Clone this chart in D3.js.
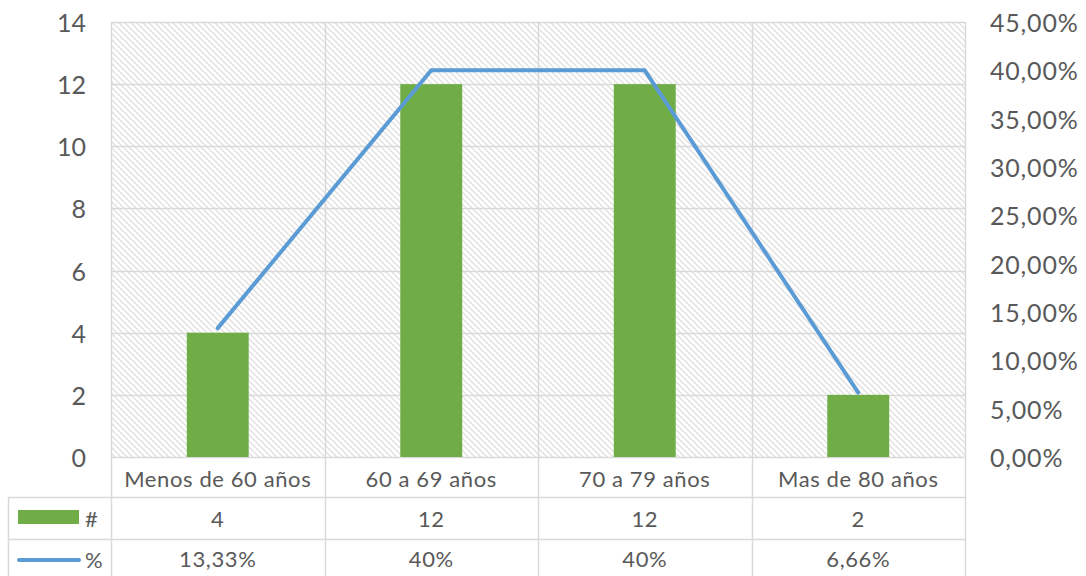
<!DOCTYPE html>
<html>
<head>
<meta charset="utf-8">
<script src="https://cdn.jsdelivr.net/npm/d3@7"></script>
<style>
  html, body { margin: 0; padding: 0; background: #fff; }
  svg { display: block; }
  text { font-family: Lato, "Open Sans", sans-serif; fill: #595959; }
</style>
</head>
<body>
<svg id="chart" width="1086" height="576"></svg>
<script>
// Age groups with patient count (#) and share (%)
const categories = ["Menos de 60 años", "60 a 69 años", "70 a 79 años", "Mas de 80 años"];
const counts = [4, 12, 12, 2];
const shares = [0.1333, 0.40, 0.40, 0.0666];
const countLabels = ["4", "12", "12", "2"];
const shareLabels = ["13,33%", "40%", "40%", "6,66%"];
const leftTicks = [0, 2, 4, 6, 8, 10, 12, 14];
const rightTicks = [0, 0.05, 0.10, 0.15, 0.20, 0.25, 0.30, 0.35, 0.40, 0.45];

const svg = d3.select("#chart");
const plot = { left: 111, right: 965, top: 22, bottom: 457 };
const table = { left: 8, rowCat: 497, rowCount: 539, bottom: 576 };
const gridColor = "#d9d9d9";

const x = d3.scaleBand().domain(categories).range([plot.left, plot.right]).paddingInner(0).paddingOuter(0);
const yL = d3.scaleLinear().domain([0, 14]).range([plot.bottom, plot.top]);
const yR = d3.scaleLinear().domain([0, 0.45]).range([plot.bottom, plot.top]);
const barW = x.bandwidth() * 0.29;

// Diagonal hatch fill for the plot area
const defs = svg.append("defs");
const pat = defs.append("pattern")
  .attr("id", "hatch").attr("patternUnits", "userSpaceOnUse")
  .attr("width", 6).attr("height", 6);
pat.append("rect").attr("width", 6).attr("height", 6).attr("fill", "#fff");
pat.append("path")
  .attr("d", "M0,0 L6,6 M-3,3 L3,9 M3,-3 L9,3")
  .attr("stroke", "#e0e0e0").attr("stroke-width", 1.3);

svg.append("rect")
  .attr("x", plot.left).attr("y", plot.top)
  .attr("width", plot.right - plot.left).attr("height", plot.bottom - plot.top)
  .attr("fill", "url(#hatch)");

// Horizontal gridlines
svg.append("g").selectAll("line").data(leftTicks).join("line")
  .attr("x1", plot.left).attr("x2", plot.right)
  .attr("y1", d => Math.round(yL(d)) + 0.5).attr("y2", d => Math.round(yL(d)) + 0.5)
  .attr("stroke", gridColor).attr("stroke-width", 1.5);

// Vertical lines at category boundaries, through plot and data table
const bounds = categories.map(c => x(c)).concat([plot.right]);
svg.append("g").selectAll("line").data(bounds).join("line")
  .attr("x1", d => Math.round(d) + 0.5).attr("x2", d => Math.round(d) + 0.5)
  .attr("y1", plot.top).attr("y2", table.bottom)
  .attr("stroke", gridColor).attr("stroke-width", 1.5);

// Data table row separators and legend column border
[table.rowCat, table.rowCount].forEach(yy => {
  svg.append("line")
    .attr("x1", table.left).attr("x2", plot.right)
    .attr("y1", yy + 0.5).attr("y2", yy + 0.5)
    .attr("stroke", gridColor).attr("stroke-width", 1.5);
});
svg.append("line")
  .attr("x1", table.left + 0.5).attr("x2", table.left + 0.5)
  .attr("y1", table.rowCat).attr("y2", table.bottom)
  .attr("stroke", gridColor).attr("stroke-width", 1.5);

// Bars (#)
svg.append("g").selectAll("rect").data(counts).join("rect")
  .attr("x", (d, i) => x(categories[i]) + x.bandwidth() / 2 - barW / 2)
  .attr("y", d => yL(d))
  .attr("width", barW)
  .attr("height", d => yL(0) - yL(d))
  .attr("fill", "#70ad47");

// Line (%)
const line = d3.line()
  .x((d, i) => x(categories[i]) + x.bandwidth() / 2)
  .y(d => yR(d));
svg.append("path").datum(shares)
  .attr("d", line)
  .attr("fill", "none")
  .attr("stroke", "#5b9bd5").attr("stroke-width", 4)
  .attr("stroke-linejoin", "round").attr("stroke-linecap", "round");

// Left axis labels
svg.append("g").selectAll("text").data(leftTicks).join("text")
  .attr("x", 86).attr("y", d => yL(d))
  .attr("text-anchor", "end").attr("dominant-baseline", "central")
  .attr("font-size", 25)
  .text(d => d);

// Right axis labels
const fmtPct = v => (v * 100).toFixed(2).replace(".", ",") + "%";
svg.append("g").selectAll("text").data(rightTicks).join("text")
  .attr("x", 990).attr("y", d => yR(d))
  .attr("text-anchor", "start").attr("dominant-baseline", "central")
  .attr("font-size", 25).attr("letter-spacing", 0.8)
  .text(fmtPct);

// Data table contents
const cx = c => x(c) + x.bandwidth() / 2;
const tableFont = 22;
const tableText = sel => sel
  .attr("text-anchor", "middle").attr("dominant-baseline", "central")
  .attr("font-size", tableFont).attr("letter-spacing", 0.6);
svg.append("g").selectAll("text").data(categories).join("text")
  .attr("x", cx).attr("y", (plot.bottom + table.rowCat) / 2 + 1)
  .call(tableText).text(d => d);
svg.append("g").selectAll("text").data(countLabels).join("text")
  .attr("x", (d, i) => cx(categories[i])).attr("y", (table.rowCat + table.rowCount) / 2)
  .call(tableText).text(d => d);
svg.append("g").selectAll("text").data(shareLabels).join("text")
  .attr("x", (d, i) => cx(categories[i])).attr("y", (table.rowCount + table.bottom) / 2 + 1)
  .call(tableText).text(d => d);

// Legend keys in the table's first column
svg.append("rect").attr("x", 18).attr("y", 510).attr("width", 61).attr("height", 14).attr("fill", "#70ad47");
svg.append("text").attr("x", 85).attr("y", 518).attr("dominant-baseline", "central")
  .attr("font-size", tableFont).text("#");
svg.append("line").attr("x1", 19).attr("x2", 79).attr("y1", 560).attr("y2", 560)
  .attr("stroke", "#5b9bd5").attr("stroke-width", 4).attr("stroke-linecap", "round");
svg.append("text").attr("x", 85).attr("y", 559).attr("dominant-baseline", "central")
  .attr("font-size", tableFont).text("%");
</script>
</body>
</html>
